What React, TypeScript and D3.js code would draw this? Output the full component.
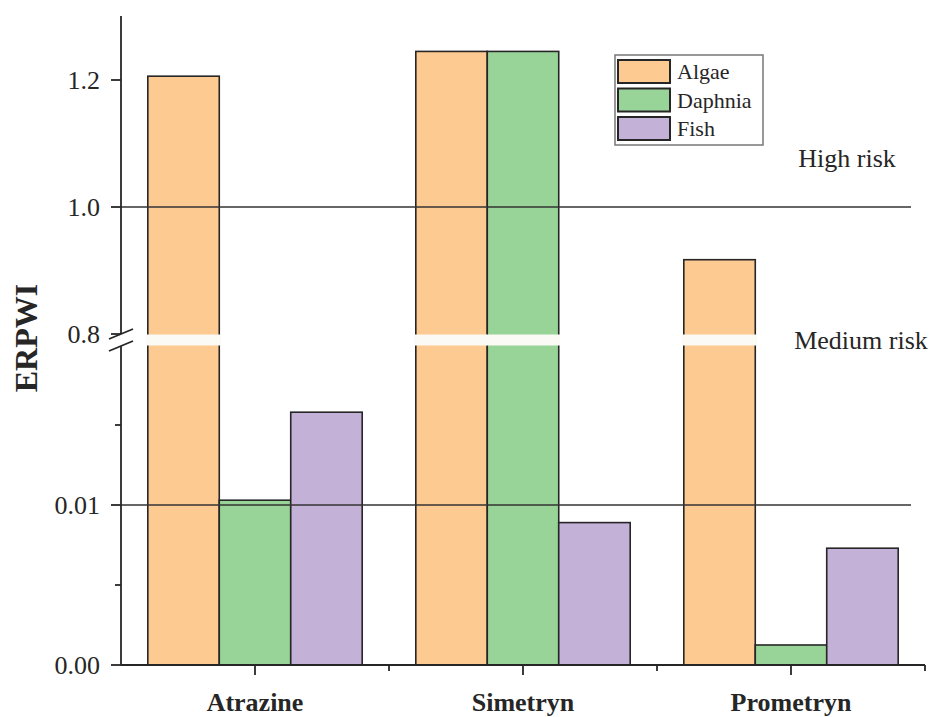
import React from 'react';
import * as d3 from 'd3';

const categories = ['Atrazine', 'Simetryn', 'Prometryn'];
const seriesNames = ['Algae', 'Daphnia', 'Fish'];
const algae = [1.206, 1.245, 0.917];
const daphnia = [0.0103, 1.245, 0.00125];
const fish = [0.0158, 0.0089, 0.0073];
const seriesColors = ['#fdca92', '#98d497', '#c4b1d7'];

const lowTicks = [0, 0.01];
const lowTickLabels = ['0.00', '0.01'];
const lowMinor = [0.005, 0.015];
const highTicks = [0.8, 1.0, 1.2];
const highTickLabels = ['0.8', '1.0', '1.2'];
const refLines = [1.0, 0.01];

const W = 933;
const H = 717;
const left = 121;
const right = 925;
const bottom = 665;
const breakTop = 334;
const breakBottom = 346;
const font = '"Liberation Serif", "DejaVu Serif", serif';
const ink = '#262626';

const App: React.FC = () => {
  const x = d3.scaleBand<string>().domain(categories).range([left, right]);
  const step = x.bandwidth();
  const xs = d3.scaleBand<string>().domain(seriesNames).range([0.1 * step, 0.9 * step]);

  const yLow = d3.scaleLinear().domain([0, 0.02]).range([bottom, breakBottom - 1]);
  const yHigh = d3.scaleLinear().domain([0.8, 1.3]).range([breakTop, 16.5]);
  const y = (v: number) => (v >= 0.8 ? yHigh(v) : yLow(v));

  const values = [algae, daphnia, fish];

  return (
    <svg width={W} height={H} style={{ position: 'absolute', left: 0, top: 0, background: '#fff' }}>
      {/* bars */}
      {categories.map((c, ci) => (
        <g key={c}>
          {seriesNames.map((s, si) => {
            const v = values[si][ci];
            const bx = (x(c) || 0) + (xs(s) || 0);
            const top = y(v);
            return (
              <g key={s}>
                <rect x={bx} y={top} width={xs.bandwidth()} height={bottom - top}
                  fill={seriesColors[si]} stroke={ink} strokeWidth={1.6} />
                {v >= 0.8 && (
                  <rect x={bx - 1.5} y={breakTop + 0.5} width={xs.bandwidth() + 3}
                    height={breakBottom - breakTop - 1} fill="#fcfaf4" />
                )}
              </g>
            );
          })}
        </g>
      ))}

      {/* reference lines */}
      {refLines.map((r) => (
        <line key={r} x1={left} x2={911} y1={y(r)} y2={y(r)} stroke="#333" strokeWidth={1.3} />
      ))}

      {/* y axis */}
      <line x1={left} x2={left} y1={16} y2={breakTop} stroke={ink} strokeWidth={1.8} />
      <line x1={left} x2={left} y1={breakBottom} y2={bottom} stroke={ink} strokeWidth={1.8} />
      <line x1={left - 12} x2={left + 12} y1={breakTop + 5} y2={breakTop - 5} stroke={ink} strokeWidth={1.8} />
      <line x1={left - 12} x2={left + 12} y1={breakBottom + 5} y2={breakBottom - 5} stroke={ink} strokeWidth={1.8} />
      {highTicks.map((t, i) => (
        <g key={t}>
          <line x1={left - 10} x2={left} y1={yHigh(t)} y2={yHigh(t)} stroke={ink} strokeWidth={1.8} />
          <text x={left - 21} y={yHigh(t)} dy="0.34em" textAnchor="end" fontFamily={font} fontSize={26} fill={ink}>
            {highTickLabels[i]}
          </text>
        </g>
      ))}
      {lowTicks.map((t, i) => (
        <g key={t}>
          <line x1={left - 10} x2={left} y1={yLow(t)} y2={yLow(t)} stroke={ink} strokeWidth={1.8} />
          <text x={left - 21} y={yLow(t)} dy="0.34em" textAnchor="end" fontFamily={font} fontSize={26} fill={ink}>
            {lowTickLabels[i]}
          </text>
        </g>
      ))}
      {lowMinor.map((t) => (
        <line key={t} x1={left - 6} x2={left} y1={yLow(t)} y2={yLow(t)} stroke={ink} strokeWidth={1.8} />
      ))}
      <text transform={`translate(37,338) rotate(-90)`} textAnchor="middle" fontFamily={font}
        fontSize={32} fontWeight="bold" fill={ink}>ERPWI</text>

      {/* x axis */}
      <line x1={left} x2={right} y1={bottom} y2={bottom} stroke={ink} strokeWidth={1.8} />
      {categories.map((c) => {
        const cx = (x(c) || 0) + step / 2;
        return (
          <g key={c}>
            <line x1={cx} x2={cx} y1={bottom} y2={bottom + 10} stroke={ink} strokeWidth={1.8} />
            <line x1={(x(c) || 0) + step} x2={(x(c) || 0) + step} y1={bottom} y2={bottom + 6} stroke={ink} strokeWidth={1.8} />
            <text x={cx} y={711} textAnchor="middle" fontFamily={font} fontSize={26} fontWeight="bold" fill={ink}>{c}</text>
          </g>
        );
      })}

      {/* zone labels */}
      <text x={847} y={167} textAnchor="middle" fontFamily={font} fontSize={26} fill={ink}>High risk</text>
      <text x={861} y={349} textAnchor="middle" fontFamily={font} fontSize={26} fill={ink}>Medium risk</text>

      {/* legend */}
      <rect x={615} y={55} width={148} height={90} fill="#fff" stroke="#777" strokeWidth={1.5} />
      {seriesNames.map((s, i) => (
        <g key={s} transform={`translate(618,${60 + i * 28.5})`}>
          <rect x={0} y={0} width={52} height={23} fill={seriesColors[i]} stroke={ink} strokeWidth={2} />
          <text x={59} y={11.5} dy="0.36em" fontFamily={font} fontSize={22} fill={ink}>{s}</text>
        </g>
      ))}
    </svg>
  );
};

export default App;
